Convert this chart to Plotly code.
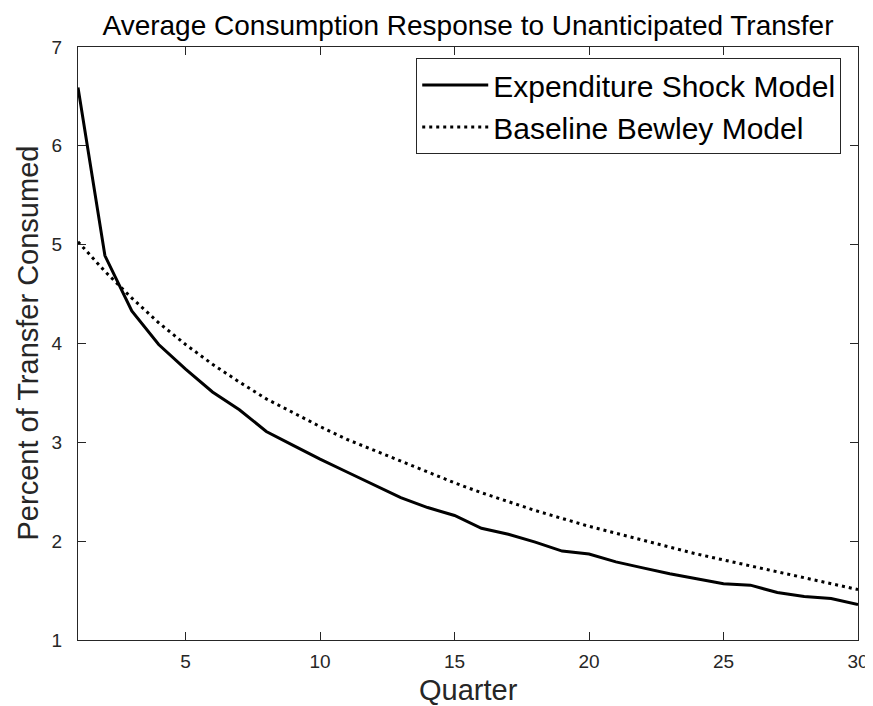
import plotly.graph_objects as go

quarters = list(range(1, 31))
expenditure_shock = [6.59, 4.89, 4.33, 3.99, 3.74, 3.51, 3.33, 3.11, 2.97, 2.83,
                     2.70, 2.57, 2.44, 2.34, 2.26, 2.13, 2.07, 1.99, 1.90, 1.87,
                     1.79, 1.73, 1.67, 1.62, 1.57, 1.555, 1.48, 1.44, 1.42, 1.36]
baseline_bewley = [5.03, 4.73, 4.46, 4.21, 3.99, 3.79, 3.61, 3.44, 3.30, 3.16,
                   3.03, 2.92, 2.81, 2.70, 2.59, 2.49, 2.40, 2.31, 2.23, 2.15,
                   2.08, 2.01, 1.94, 1.87, 1.81, 1.75, 1.69, 1.63, 1.57, 1.51]
x_ticks = [5, 10, 15, 20, 25, 30]
y_ticks = [1, 2, 3, 4, 5, 6, 7]

FONT = "Liberation Sans, Arial, Helvetica, sans-serif"
AX = "#262626"

fig = go.Figure()
fig.add_trace(go.Scatter(x=quarters, y=expenditure_shock, mode="lines",
                         name="Expenditure Shock Model",
                         line=dict(color="black", width=3)))
fig.add_trace(go.Scatter(x=quarters, y=baseline_bewley, mode="lines",
                         name="Baseline Bewley Model",
                         line=dict(color="black", width=3, dash="3px,4px")))

axis_common = dict(showgrid=False, zeroline=False, showline=True, linecolor=AX,
                   linewidth=1, mirror="ticks", ticks="inside", ticklen=8,
                   tickcolor=AX, tickwidth=1,
                   tickfont=dict(family=FONT, size=19, color=AX))

fig.update_layout(
    width=873, height=706,
    margin=dict(l=70, r=13, t=39, b=74),
    paper_bgcolor="white", plot_bgcolor="white",
    font=dict(family=FONT, color="black"),
    title=dict(text="Average Consumption Response to Unanticipated Transfer",
               font=dict(family=FONT, size=28, color="black"),
               x=0.5, xref="paper", xanchor="center",
               y=1 - 17 / 706, yref="container", yanchor="middle"),
    xaxis=dict(range=[1, 30], tickvals=x_ticks, ticktext=[str(v) for v in x_ticks],
               ticklabelstandoff=4, **axis_common),
    yaxis=dict(range=[1, 7], tickvals=y_ticks, ticktext=[str(v) for v in y_ticks],
               ticklabelstandoff=11, **axis_common),
    legend=dict(x=0.9785, y=0.9815, xanchor="right", yanchor="top",
                bordercolor=AX, borderwidth=1, bgcolor="white",
                font=dict(family=FONT, size=30, color="black"),
                itemwidth=66, tracegroupgap=0),
    showlegend=True,
    annotations=[
        dict(text="Quarter", xref="paper", yref="paper", x=0.5, y=0,
             xanchor="center", yanchor="middle", yshift=-50, showarrow=False,
             font=dict(family=FONT, size=29, color=AX)),
        dict(text="Percent of Transfer Consumed", xref="paper", yref="paper",
             x=0, y=0.5, xanchor="center", yanchor="middle", xshift=-51,
             textangle=-90, showarrow=False,
             font=dict(family=FONT, size=29, color=AX)),
    ],
)

fig.write_html("out.html")
